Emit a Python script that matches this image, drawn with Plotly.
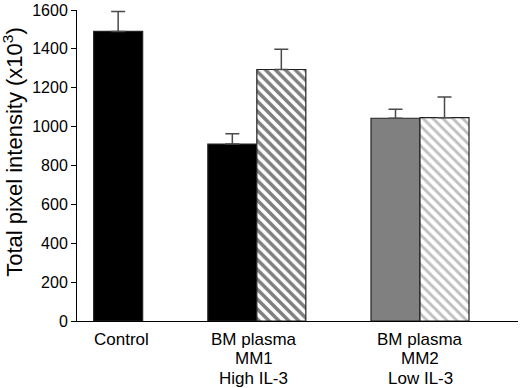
import plotly.graph_objects as go

# ---- data ----
categories = ["Control", "BM plasma<br>MM1<br>High IL-3", "BM plasma<br>MM2<br>Low IL-3"]
solid_values = [1490, 910, 1043]
solid_errors = [102, 53, 47]
hatched_values = [1294, 1046]          # MM1, MM2 only
hatched_errors = [104, 107]
y_ticks = [0, 200, 400, 600, 800, 1000, 1200, 1400, 1600]
y_title = "Total pixel intensity (x10<sup>3</sup>)"

# ---- layout constants ----
GROUP_X = [0.84, 3.67, 7.0]
LABEL_X = [0.90, 3.61, 7.0]
SOLID_OFFSETS = [-0.5, -1.0, -1.0]
SOLID_COLORS = ["black", "black", "#808080"]
HATCH_FG = ["black", "#808080"]
HATCH_SOLIDITY = [0.5, 0.42]
FONT = "Liberation Sans, Arial, sans-serif"
ERR_COLOR = "#4a4a4a"

fig = go.Figure()

fig.add_trace(go.Bar(
    x=GROUP_X, y=solid_values, width=1.0, offset=SOLID_OFFSETS,
    marker=dict(color=SOLID_COLORS, line=dict(color="#222222", width=1.2)),
    error_y=dict(type="data", symmetric=False, array=solid_errors,
                 arrayminus=[0] * len(solid_errors),
                 color=ERR_COLOR, thickness=1.5, width=7),
    showlegend=False,
))

fig.add_trace(go.Bar(
    x=GROUP_X[1:], y=hatched_values, width=1.0, offset=0.0,
    marker=dict(color="white",
                line=dict(color="#222222", width=1.2),
                pattern=dict(shape="\\", fgcolor=HATCH_FG, bgcolor="white",
                             size=7, solidity=HATCH_SOLIDITY, fillmode="overlay")),
    error_y=dict(type="data", symmetric=False, array=hatched_errors,
                 arrayminus=[0] * len(hatched_errors),
                 color=ERR_COLOR, thickness=1.5, width=7),
    showlegend=False,
))

# x category labels, one annotation per line for tight line spacing
line_shifts = [-18, -37.5, -57]
for lx, label in zip(LABEL_X, categories):
    for i, line in enumerate(label.split("<br>")):
        fig.add_annotation(x=lx, xref="x", y=0, yref="paper", text=line,
                           showarrow=False, xanchor="center", yanchor="middle",
                           yshift=line_shifts[i],
                           font=dict(family=FONT, size=17, color="black"))

# y title
fig.add_annotation(x=0, xref="paper", xshift=-64, y=0.541, yref="paper",
                   text=y_title, textangle=-90, showarrow=False,
                   xanchor="center", yanchor="middle",
                   font=dict(family=FONT, size=22, color="black"))

fig.update_layout(
    width=520, height=388,
    margin=dict(l=77, r=2, t=7, b=67),
    plot_bgcolor="white", paper_bgcolor="white",
    barmode="overlay",
    font=dict(family=FONT, color="black"),
)
fig.update_xaxes(range=[0, 9], showline=True, linecolor="black", linewidth=1,
                 showgrid=False, zeroline=False, showticklabels=False, ticks="")
fig.update_yaxes(range=[0, 1600], tickvals=y_ticks, ticks="outside", ticklen=5,
                 tickcolor="black", showline=True, linecolor="black", linewidth=1,
                 showgrid=False, zeroline=False, ticklabeloverflow="allow",
                 tickfont=dict(family=FONT, size=16, color="black"))

fig.write_html("out.html", config={"displayModeBar": False},
               post_script="document.body.style.margin='0';document.body.style.overflow='hidden';")
